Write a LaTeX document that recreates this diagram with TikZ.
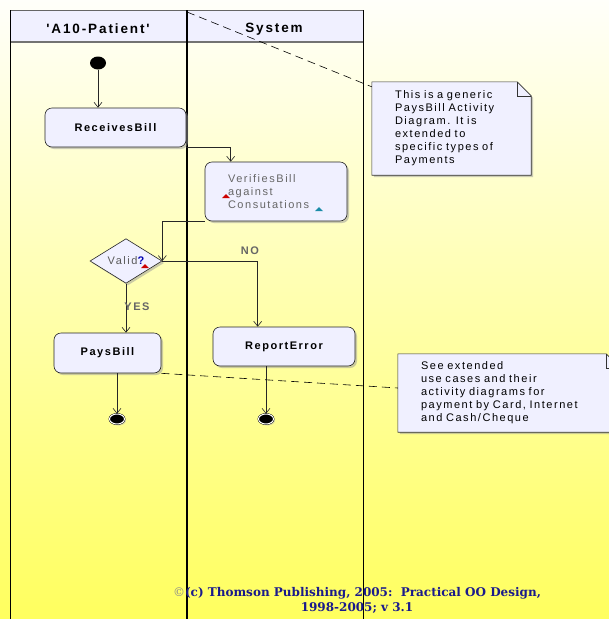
\documentclass[tikz,border=0pt]{standalone}
\usepackage{fontspec}
\setmainfont{Liberation Sans}
\newfontfamily\umlfont[LetterSpace=14]{Liberation Sans}
\newfontfamily\footfont{DejaVu Serif}
\usetikzlibrary{arrows.meta,shapes.geometric,shadows,backgrounds}
\definecolor{umlfill}{HTML}{F0F0FF}
\definecolor{footblue}{HTML}{1A1A8C}
\definecolor{bgtop}{HTML}{FFFFFA}
\definecolor{bgmid}{HTML}{FFFFD0}
\definecolor{bgbot}{HTML}{FFFF5E}
\definecolor{markred}{HTML}{CC0000}
\definecolor{markteal}{HTML}{1A8CA8}

\begin{document}
\begin{tikzpicture}[x=1pt,y=-1pt,
  >={Straight Barb[length=5pt,width=8pt]},
  flow/.style={->,black!85,line width=0.6pt},
  notelink/.style={black,line width=0.6pt,dash pattern=on 8pt off 5pt},
  action/.style={draw=black!85,fill=umlfill,rounded corners=7pt,line width=0.6pt,
    drop shadow={shadow xshift=2pt,shadow yshift=-2pt,fill=black!40},
    font=\umlfont\bfseries\fontsize{11}{13}\selectfont},
  decision/.style={diamond,draw=black!85,fill=umlfill,inner sep=0pt,line width=0.6pt,
    drop shadow={shadow xshift=2pt,shadow yshift=-2pt,fill=black!40},
    font=\umlfont\fontsize{11}{12}\selectfont,text=black!65},
  init/.style={ellipse,fill=black,minimum width=16pt,minimum height=13pt,inner sep=0pt},
  endstate/.style={ellipse,draw=black,fill=black,double=white,double distance=1pt,
    minimum width=15pt,minimum height=10pt,inner sep=0pt,
    drop shadow={shadow xshift=1.5pt,shadow yshift=-1.5pt,fill=black!30}},
  notebox/.style={align=left,inner xsep=23pt,inner ysep=0pt,
    font=\umlfont\fontsize{11}{13}\selectfont},
  lanehead/.style={font=\umlfont\bfseries\fontsize{13.5}{15}\selectfont},
  guard/.style={font=\umlfont\bfseries\fontsize{11}{12}\selectfont,text=black!60}
]
\useasboundingbox (0,0) rectangle (609,619);

% Background
\begin{scope}[on background layer]
  \shade[top color=bgtop,middle color=bgmid,bottom color=bgbot] (0,0) rectangle (609,619);
\end{scope}

% Swimlanes
\filldraw[fill=umlfill,draw=black!60,line width=0.5pt] (10,10) rectangle (363,42);
\draw[black!55,line width=1.5pt] (10,42) -- (363,42);
\draw[black,line width=0.6pt] (10,10) -- (10,619);
\draw[black,line width=1.4pt] (187,10) -- (187,619);
\draw[black,line width=0.8pt] (363,10) -- (363,619);
\node[lanehead] (patient) at (98,29) {'A10-Patient'};
\node[lanehead] (system) at (274,29) {System};
\coordinate (divtop) at (187,12);

% Activity nodes
\node[init] (init) at (98,63) {};
\node[action,minimum width=141pt,minimum height=39pt] (recv) at (115.5,127.5) {ReceivesBill};
\node[action,minimum width=142pt,minimum height=59pt,text width=96pt,inner xsep=23pt,
  align=left,font=\umlfont\fontsize{11}{13}\selectfont,text=black!60] (verify) at (276,191.5)
  {VerifiesBill\\against\\Consutations};
\node[decision,minimum width=72pt,minimum height=39pt] (valid) at (126,261)
  {Valid\textcolor{blue!70!black}{\bfseries ?}};
\node[action,minimum width=107pt,minimum height=40pt] (pay) at (107.5,353) {PaysBill};
\node[action,minimum width=142pt,minimum height=39pt] (err) at (284,346.5) {ReportError};
\node[endstate] (fin1) at (117,419) {};
\node[endstate] (fin2) at (266,419) {};

% Small markers
\fill[markred] (222,198) -- (226,194) -- (230,198) -- cycle;
\fill[markteal] (315,211) -- (319,207) -- (323,211) -- cycle;
\fill[markred] (141,268) -- (145,264) -- (149,268) -- cycle;

% Flows
\draw[flow] (init) -- (init |- recv.north);
\draw[flow] (recv.south east) -| ([xshift=26pt]verify.north west);
\draw[flow] (verify.south west) -| (valid.east);
\draw[flow] (valid.east) -| ([xshift=45pt]err.north west);
\draw[flow] (valid.south) -- (valid.south |- pay.north);
\draw[flow] (fin1 |- pay.south) -- (fin1.north);
\draw[flow] (fin2 |- err.south) -- (fin2.north);
\node[guard] (no) at (250,251) {NO};
\node[guard] (yes) at (137,307) {YES};

% Notes
\node[notebox,text width=113pt,minimum height=93pt] (note1) at (451.5,128.5)
  {This is a generic\\PaysBill Activity\\Diagram. It is\\extended to\\specific types of\\Payments};
\node[notebox,text width=176pt,minimum height=78pt] (note2) at (509,393)
  {See extended\\use cases and their\\activity diagrams for\\payment by Card, Internet\\and Cash/Cheque};
\begin{scope}[on background layer]
  \foreach \n in {note1,note2} {
    \filldraw[fill=umlfill,draw=black!80,line width=0.6pt,
      drop shadow={shadow xshift=2pt,shadow yshift=-2pt,fill=black!40}]
      (\n.north west) -- ([xshift=-14pt]\n.north east) -- ([yshift=-14pt]\n.north east)
      -- (\n.south east) -- (\n.south west) -- cycle;
    \draw[black!80,line width=0.6pt] ([xshift=-14pt]\n.north east) |- ([yshift=-14pt]\n.north east);
  }
\end{scope}
\draw[notelink] (divtop) -- ([yshift=-5pt]note1.north west);
\draw[notelink] (pay.south east) -- ([yshift=5pt]note2.west);

% Credit
\node[align=center,text=footblue,font=\footfont\bfseries\fontsize{12}{15}\selectfont] (credit) at (357,600)
  {\textcolor{black!45}{\mdseries ©}(c) Thomson Publishing, 2005:\ \ Practical OO Design,\\1998-2005; v 3.1};

\end{tikzpicture}
\end{document}
